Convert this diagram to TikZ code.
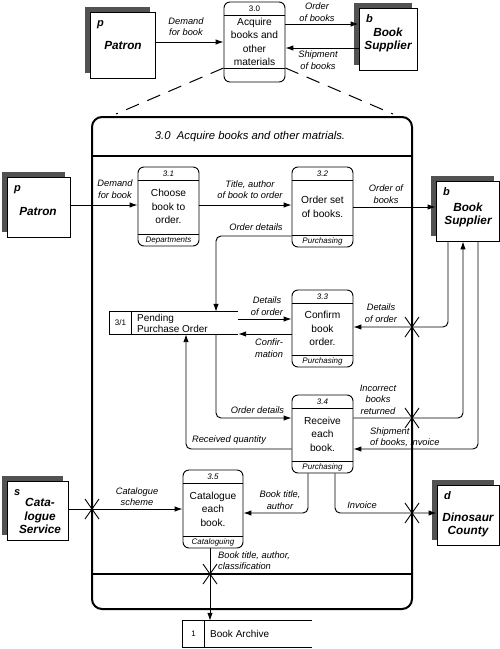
\documentclass[tikz,border=0pt]{standalone}
\usepackage{fontspec}
\setmainfont{Liberation Sans}
\usetikzlibrary{arrows.meta,fit,calc}
\tikzset{
  lbl/.style={font=\fontsize{9.3}{11.5}\selectfont\itshape, align=center, inner sep=0pt},
  bodytxt/.style={font=\fontsize{10.2}{13.5}\selectfont, align=center, inner sep=0pt},
  smalltxt/.style={font=\fontsize{8}{9}\selectfont, inner sep=0pt},
  smallit/.style={font=\fontsize{8}{9}\selectfont\itshape, inner sep=0pt},
  entname/.style={font=\fontsize{11.8}{13.3}\selectfont\bfseries\itshape, align=center, inner sep=0pt},
  entletter/.style={font=\fontsize{11}{12}\selectfont\bfseries\itshape, inner sep=0pt},
  frontbox/.style={draw, fill=white, line width=0.9pt, inner sep=0pt},
  shadowbox/.style={fill=black!68},
  procbox/.style={draw, rounded corners=6pt, line width=0.9pt, inner sep=0pt},
  flow/.style={line width=0.95pt, -{Latex[length=8pt,width=5.5pt]}, rounded corners=5pt},
  thin/.style={line width=0.9pt},
  framel/.style={line width=2pt},
  crossl/.style={line width=0.9pt},
  dashl/.style={line width=1pt, dash pattern=on 14pt off 9pt},
}
\newcommand{\dfdent}[6]{%
  \fill[shadowbox] (#2-5,#3-5) rectangle (#4-5,#5-5);
  \node[frontbox, fit={(#2,#3) (#4,#5)}] (#1) {};
  \node[entletter, anchor=base west] (#1-l) at (#2+7,#3+14) {#6};
}
\newcommand{\dfdproc}[9]{%
  \node[procbox, fit={(#2,#3) (#4,#5)}] (#1) {};
  \draw[thin] (#2,#3+13.5) -- (#4,#3+13.5);
  \draw[thin] (#2,#5-#9) -- (#4,#5-#9);
  \node[smalltxt] (#1-id) at ({(#2+#4)/2},#3+7) {#6};
  \node[bodytxt] (#1-b) at (#1.center) {#7};
  \node[smallit] (#1-f) at ({(#2+#4)/2},#5-#9/2) {#8};
}
\newcommand{\dfdcross}[1]{%
  \draw[crossl, shift={#1}] (-7,-10) -- (7,10) (-7,10) -- (7,-10);
}
\begin{document}
\begin{tikzpicture}[x=1pt,y=-1pt]
\useasboundingbox (0,0) rectangle (500,649);

% ---------- top level ----------
\dfdent{patT}{90}{12}{155}{78}{p}
\node[entname] (patT-n) at (123,45) {Patron};
\dfdent{bsT}{359}{8}{417}{70}{b}
\node[entname] (bsT-n) at (388,40) {Book\\Supplier};
\dfdproc{p30}{224}{2}{285}{82}{3.0}{Acquire\\books and\\other\\materials}{}{14}

\draw[flow] (patT.east |- 0,42) -- (p30.west |- 0,42);
\draw[flow] (p30.east |- 0,24) -- (bsT.west |- 0,24);
\draw[flow] (bsT.west |- 0,48) -- (p30.east |- 0,48);
\node[lbl] (l1) at (186,26.5) {Demand\\for book};
\node[lbl] (l2) at (317,12) {Order\\of books};
\node[lbl] (l3) at (318,60) {Shipment\\of books};

\coordinate (dL) at (116,114);
\coordinate (dR) at (393,114);
\draw[dashl] (p30.west |- 0,68) -- (dL);
\draw[dashl] (p30.east |- 0,68) -- (dR);

% ---------- frame ----------
\draw[framel, rounded corners=10pt] (92,117) rectangle (412,609);
\draw[framel] (92,156) -- (412,156);
\draw[framel] (92,574) -- (412,574);
\node[font=\fontsize{11.3}{13}\selectfont\itshape, inner sep=0pt] (title) at (250,137) {3.0\ \ Acquire books and other matrials.};

% ---------- entities ----------
\dfdent{patL}{7}{177}{70}{237}{p}
\node[entname] (patL-n) at (38,211) {Patron};
\dfdent{bsR}{436}{181}{499}{241}{b}
\node[entname] (bsR-n) at (468,215) {Book\\Supplier};
\dfdent{cat}{7}{481}{68}{540}{s}
\node[entname] (cat-n) at (40,516) {Cata-\\logue\\Service};
\dfdent{din}{437}{485}{499}{545}{d}
\node[entname] (din-n) at (468,525) {Dinosaur\\County};

% ---------- processes ----------
\dfdproc{p31}{138}{167}{199}{246}{\itshape 3.1}{Choose\\book to\\order.}{Departments}{11.5}
\dfdproc{p32}{292}{167}{353}{247}{\itshape 3.2}{Order set\\of books.}{Purchasing}{11.5}
\dfdproc{p33}{292}{290}{353}{367}{\itshape 3.3}{Confirm\\book\\order.}{Purchasing}{11.5}
\dfdproc{p34}{292}{395}{353}{473}{\itshape 3.4}{Receive\\each\\book.}{Purchasing}{12}
\dfdproc{p35}{183}{470}{243}{548}{\itshape 3.5}{Catalogue\\each\\book.}{Cataloguing}{11.5}

% ---------- data stores ----------
\node[inner sep=0pt, fit={(110,312) (238,334)}] (st31) {};
\draw[thin] (st31.north east) -- (st31.north west) -- (st31.south west) -- (st31.south east);
\draw[thin] (131,312) -- (131,334);
\node[smalltxt] (st31-id) at (120.5,323) {3/1};
\node[font=\fontsize{10}{11}\selectfont, align=left, anchor=west, inner sep=0pt] (st31-t) at (137,323) {Pending\\Purchase Order};

\node[inner sep=0pt, fit={(183,621) (312,647)}] (arch) {};
\draw[thin] (arch.north east) -- (arch.north west) -- (arch.south west) -- (arch.south east);
\draw[thin] (204,621) -- (204,647);
\node[smalltxt] (arch-id) at (193.5,634) {1};
\node[font=\fontsize{10}{11}\selectfont, anchor=west, inner sep=0pt] (arch-t) at (210,634) {Book Archive};

% ---------- flows ----------
\draw[flow] (patL.east |- 0,205) -- (p31.west |- 0,205);
\draw[flow] (p31.east |- 0,205) -- (p32.west |- 0,205);
\draw[flow] (p32.east |- 0,207) -- (bsR.west |- 0,207);
\draw[flow] (p32.west |- 0,236) -| (st31.north -| 216,0);
\draw[flow] (st31.east |- 0,319) -- (p33.west |- 0,319);
\draw[flow] (p33.west |- 0,334) -- (st31.east |- 0,334);
\draw[flow] (bsR.south -| 448,0) |- (p33.east |- 0,327);
\draw[flow] (p34.east |- 0,418) -| (bsR.south -| 463,0);
\draw[flow] (bsR.south -| 478,0) |- (p34.east |- 0,449);
\draw[flow] (st31.south -| 216,0) |- (p34.west |- 0,418);
\draw[flow] (p34.west |- 0,449) -| (st31.south -| 186,0);
\draw[flow] (p34.south -| 308,0) |- (p35.east |- 0,513);
\draw[flow] (p34.south -| 335,0) |- (din.west |- 0,513);
\draw[flow] (cat.east |- 0,509) -- (p35.west |- 0,509);
\draw[flow] (p35.south -| 210,0) -- (arch.north -| 210,0);

\dfdcross{(412,327)}
\dfdcross{(412,418)}
\dfdcross{(412,513)}
\dfdcross{(92,509)}
\dfdcross{(210,574)}

% ---------- labels ----------
\node[lbl] (l4) at (115,189) {Demand\\for book};
\node[lbl] (l5) at (250,189.5) {Title, author\\of book to order};
\node[lbl] (l6) at (386,194) {Order of\\books};
\node[lbl] (l7) at (256,227.5) {Order details};
\node[lbl] (l8) at (267,306) {Details\\of order};
\node[lbl] (l9) at (269,348) {Confir-\\mation};
\node[lbl] (l10) at (381,313) {Details\\of order};
\node[lbl] (l11) at (378,399.5) {Incorrect\\books\\returned};
\node[lbl, align=left, anchor=west] (l12) at (370,437) {Shipment\\of books, invoice};
\node[lbl] (l13) at (257.5,410.5) {Order details};
\node[lbl] (l14) at (229,440.5) {Received quantity};
\node[lbl] (l15) at (280,500) {Book title,\\author};
\node[lbl] (l16) at (362,505.5) {Invoice};
\node[lbl] (l17) at (137,496.5) {Catalogue\\scheme};
\node[lbl, align=left, anchor=west] (l18) at (218,560.5) {Book title, author,\\classification};
\end{tikzpicture}
\end{document}
